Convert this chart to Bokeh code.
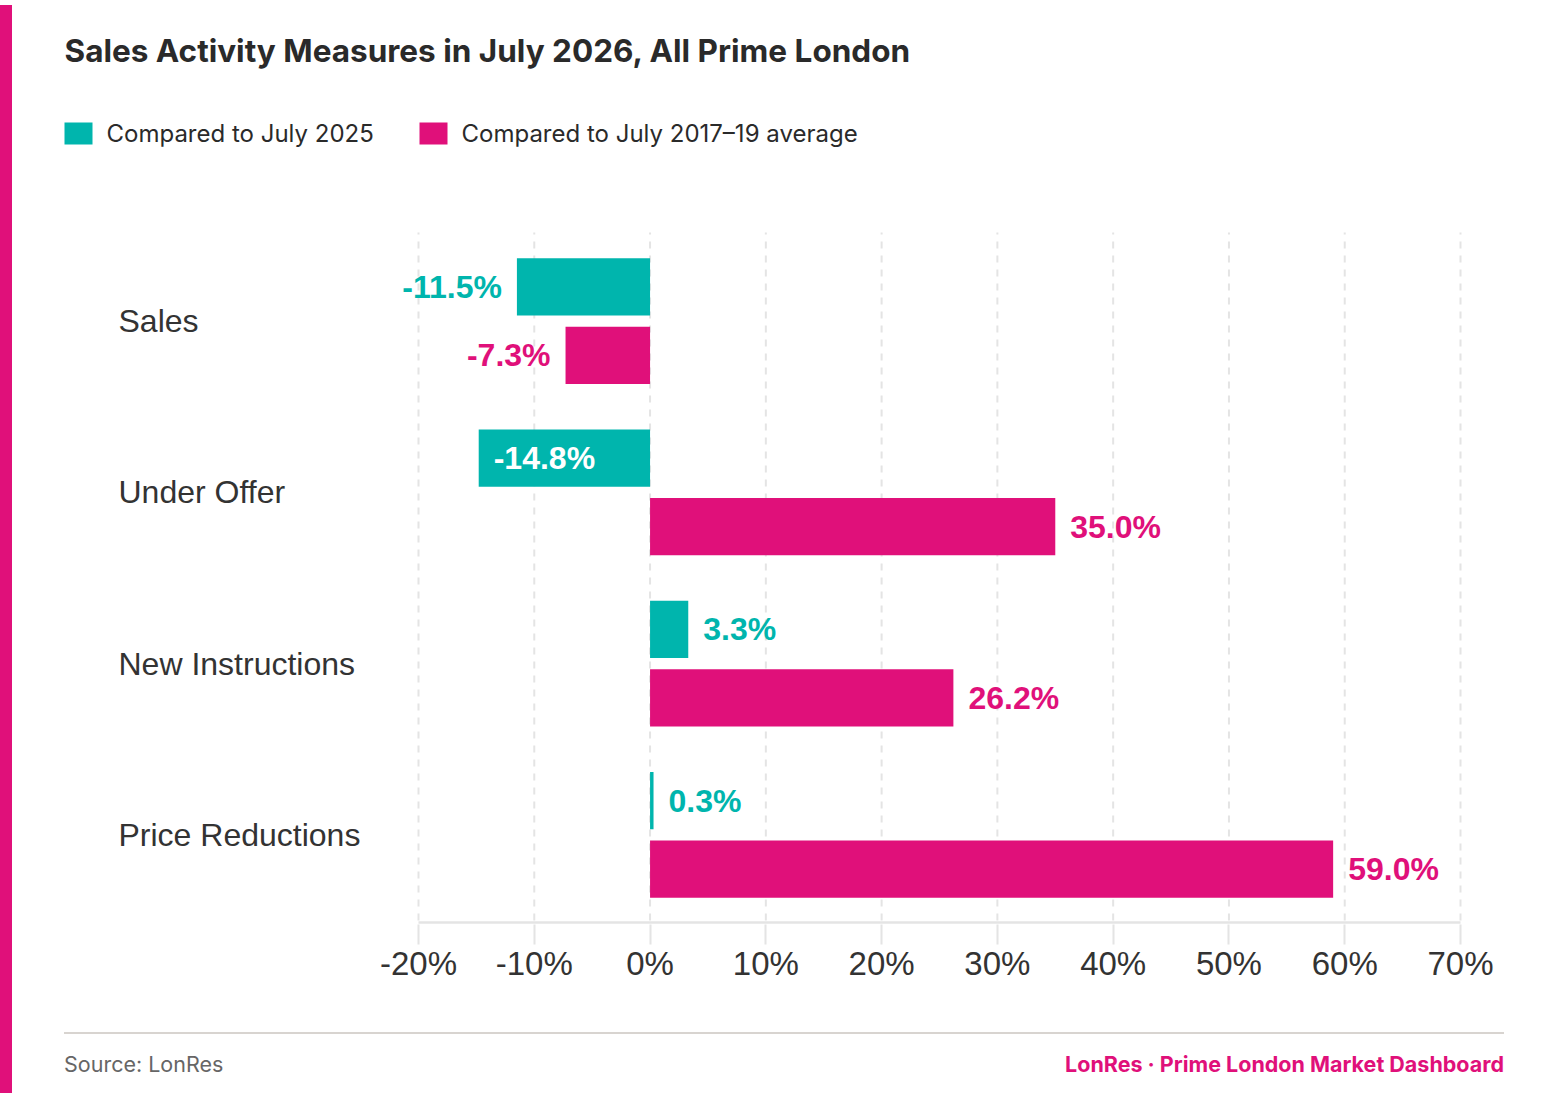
from bokeh.plotting import figure
from bokeh.models import Label, FixedTicker, ColumnDataSource, Div
from bokeh.layouts import row, column
from bokeh.embed import file_html
from bokeh.resources import INLINE

categories = ["Sales", "Under Offer", "New Instructions", "Price Reductions"]
vs_2025 = [-11.5, -14.8, 3.3, 0.3]
vs_1719 = [-7.3, 35.0, 26.2, 59.0]
ticks = [-20, -10, 0, 10, 20, 30, 40, 50, 60, 70]

TEAL = "#00b5ad"
PINK = "#e0107a"
PPX = (1460 - 418) / 90.0
PPY = (920 - 235) / 4.0
FIG_LEFT = 17   # measured page x where figure begins
FIG_W = 1524
FRAME_BOTTOM = 924
FIG_H = 1016

def dx(px):
    return -20 + (px - 418) / PPX
def dy(py):
    return (920 - py) / PPY

p = figure(width=FIG_W, height=FIG_H, output_backend="svg", toolbar_location=None,
           x_range=(dx(FIG_LEFT), dx(FIG_LEFT + FIG_W)), y_range=(dy(FRAME_BOTTOM), dy(0)),
           min_border_left=0, min_border_right=0, min_border_top=0,
           min_border_bottom=FIG_H - FRAME_BOTTOM)
p.outline_line_color = None
p.yaxis.visible = False
p.grid.visible = False
p.xaxis.ticker = FixedTicker(ticks=ticks)
p.xaxis.major_label_overrides = {t: f"{t}%" for t in ticks}
p.xaxis.major_label_text_font = "Liberation Sans"
p.xaxis.major_label_text_font_size = "33px"
p.xaxis.major_label_text_color = "#333333"
p.xaxis.axis_line_color = None
p.xaxis.major_tick_line_color = "#e4e4e4"
p.xaxis.major_tick_line_width = 2
p.xaxis.major_tick_out = 20
p.xaxis.major_tick_in = 0
p.xaxis.minor_tick_line_color = None
p.xaxis.major_label_standoff = 0

p.segment(x0=ticks, x1=ticks, y0=[dy(920)] * len(ticks), y1=[dy(232)] * len(ticks),
          line_color="#e4e4e4", line_dash="7 7", line_width=2)
p.segment(x0=[ticks[0]], x1=[ticks[-1]], y0=[dy(922)], y1=[dy(922)],
          line_color="#e4e4e4", line_width=2.5)

yc = [3.5 - i for i in range(4)]
src = ColumnDataSource(dict(y1=[y + 0.2 for y in yc], y2=[y - 0.2 for y in yc],
                            a=vs_2025, b=vs_1719))
p.hbar(y="y1", right="a", left=0, height=0.333, source=src, color=TEAL, line_color=None)
p.hbar(y="y2", right="b", left=0, height=0.333, source=src, color=PINK, line_color=None)

for i, c in enumerate(categories):
    p.add_layout(Label(x=dx(118), y=yc[i], text=c, text_font="Liberation Sans",
                       text_font_size="32px", text_color="#333333", text_baseline="middle"))
    for val, yy, col in ((vs_2025[i], yc[i] + 0.2, TEAL), (vs_1719[i], yc[i] - 0.2, PINK)):
        txt = f"{val:.1f}%"
        if val >= 0:
            lab = Label(x=val, y=yy, text=txt, x_offset=15, text_align="left", text_color=col)
        elif val < -13:
            lab = Label(x=val, y=yy, text=txt, x_offset=15, text_align="left", text_color="white")
        else:
            lab = Label(x=val, y=yy, text=txt, x_offset=-15, text_align="right", text_color=col)
        lab.text_font = "Liberation Sans"
        lab.text_font_size = "32px"
        lab.text_font_style = "bold"
        lab.text_baseline = "middle"
        p.add_layout(lab)

p.add_layout(Label(x=dx(64), y=dy(50), text="Sales Activity Measures in July 2026, All Prime London",
                   text_font="Inter", text_font_size="31.5px", text_font_style="bold",
                   text_color="#2a2a2a", text_baseline="middle"))
p.quad(left=[dx(64)], right=[dx(92)], bottom=[dy(144)], top=[dy(122)], color=TEAL, line_color=None)
p.add_layout(Label(x=dx(106), y=dy(133), text="Compared to July 2025", text_font="Inter",
                   text_font_size="24px", text_color="#2a2a2a", text_baseline="middle"))
p.quad(left=[dx(419)], right=[dx(447)], bottom=[dy(144)], top=[dy(122)], color=PINK, line_color=None)
p.add_layout(Label(x=dx(461), y=dy(133), text="Compared to July 2017\u201319 average", text_font="Inter",
                   text_font_size="24px", text_color="#2a2a2a", text_baseline="middle"))

stripe = Div(width=20, height=1088, styles={"background-color": PINK, "margin-left": "-8px"})
footer = Div(width=FIG_W, height=1088 - FIG_H, text=(
    "<div style='margin-left:42px;width:1440px;border-top:2px solid #d8d4d0;margin-top:11px;"
    "padding-top:15px;display:flex;justify-content:space-between;font-family:Inter;font-size:21.5px;'>"
    "<span style='color:#666666'>Source: LonRes</span>"
    f"<span style='color:{PINK};font-weight:bold'>LonRes \u00b7 Prime London Market Dashboard</span></div>"))
layout = row(stripe, column(p, footer, spacing=0), spacing=0)

open("out.html", "w").write(file_html(layout, INLINE))
